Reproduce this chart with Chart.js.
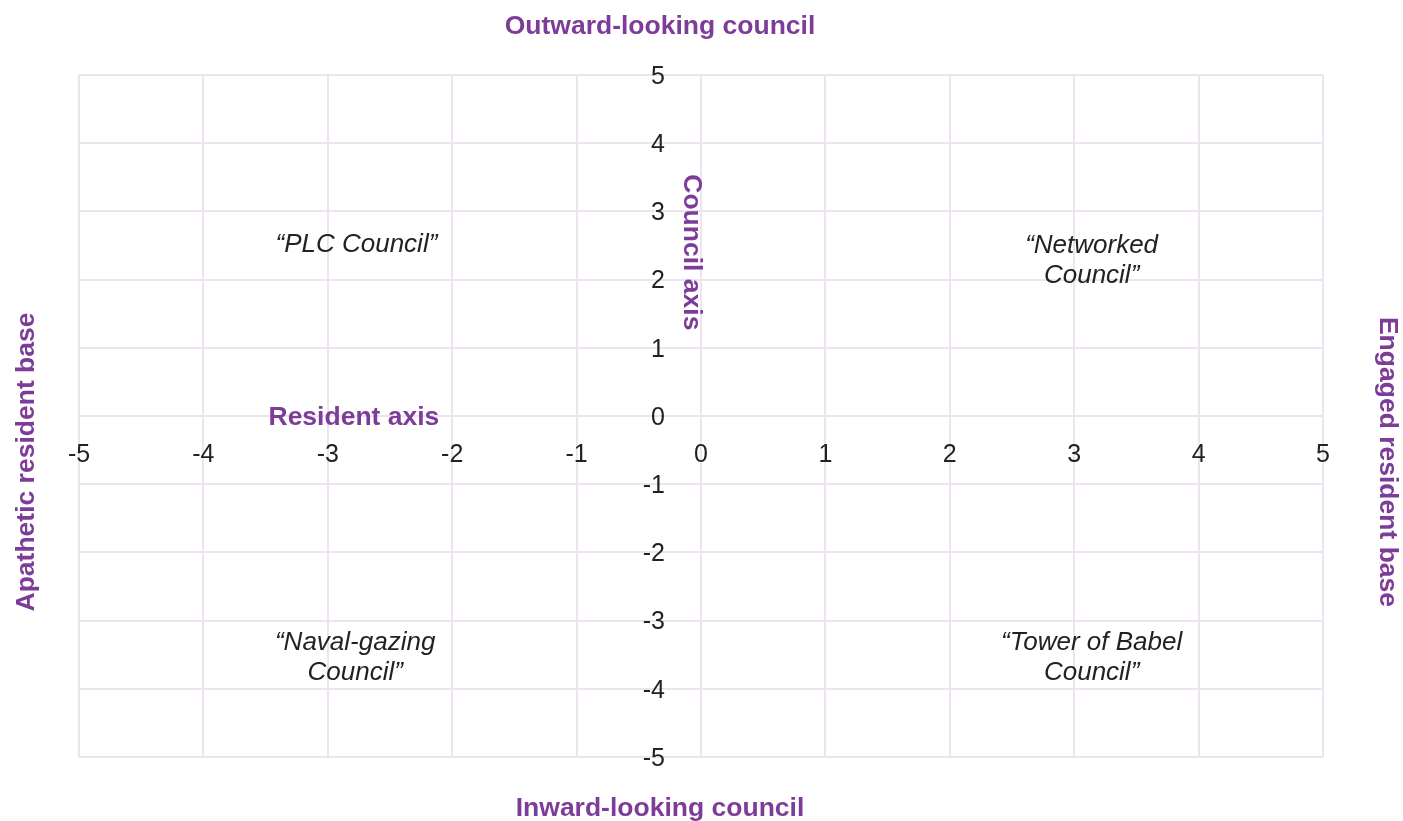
<!DOCTYPE html>
<html>
<head>
<meta charset="utf-8">
<title>Council and resident quadrants</title>
<script src="https://cdn.jsdelivr.net/npm/chart.js@4/dist/chart.umd.min.js"></script>
<style>
  html, body { margin: 0; padding: 0; background: #fff; }
  #wrap { width: 1403px; height: 821px; }
</style>
</head>
<body>
<div id="wrap"><canvas id="quadChart"></canvas></div>
<script>
// axis range
const axisMin = -5;
const axisMax = 5;
const tickStep = 1;

// the four quadrant names and where they sit (data units)
const quadrantNames = [
  ['“PLC Council”'],
  ['“Networked', 'Council”'],
  ['“Naval-gazing', 'Council”'],
  ['“Tower of Babel', 'Council”']
];
const quadrantX = [-2.77, 3.14, -2.78, 3.14];
const quadrantY = [2.54, 2.3, -3.52, -3.52];

// names of the two axes, placed inside the plot
const axisNames = ['Resident axis', 'Council axis'];
const axisNameX = [-2.79, -0.065];
const axisNameY = [0, 2.4];

// pole names: top, bottom, left, right
const poleNames = ['Outward-looking council', 'Inward-looking council', 'Apathetic resident base', 'Engaged resident base'];

const purple = '#7D3C98';
const ink = '#222222';
const gridColor = '#EEE3F1';
const fontFamily = '"Liberation Sans", Arial, Helvetica, sans-serif';

const labelPlugin = {
  id: 'quadLabels',
  afterDatasetsDraw(chart) {
    const { ctx, chartArea: a, scales: { x, y } } = chart;
    const lineGap = 30;
    const dy = 2; // baseline nudge
    ctx.save();
    ctx.textAlign = 'center';
    ctx.textBaseline = 'middle';

    // quadrant names at the (invisible) points
    ctx.font = 'italic 26px ' + fontFamily;
    ctx.fillStyle = ink;
    chart.getDatasetMeta(0).data.forEach((pt, i) => {
      const lines = quadrantNames[i];
      const top = pt.y - (lines.length - 1) * lineGap / 2 + dy;
      lines.forEach((l, j) => ctx.fillText(l, pt.x, top + j * lineGap));
    });

    ctx.font = 'bold 26.5px ' + fontFamily;
    ctx.fillStyle = purple;

    // resident axis name
    ctx.fillText(axisNames[0], x.getPixelForValue(axisNameX[0]), y.getPixelForValue(axisNameY[0]) + dy);

    // council axis name, rotated
    ctx.save();
    ctx.translate(x.getPixelForValue(axisNameX[1]) - dy, y.getPixelForValue(axisNameY[1]));
    ctx.rotate(Math.PI / 2);
    ctx.fillText(axisNames[1], 0, 0);
    ctx.restore();

    // pole names round the plot
    const midX = (a.left + a.right) / 2 - 41;
    const midY = (a.top + a.bottom) / 2 + 46;
    ctx.fillText(poleNames[0], midX, a.top - 50 + dy);
    ctx.fillText(poleNames[1], midX, a.bottom + 50 + dy);

    ctx.save();
    ctx.translate(a.left - 54 + dy, midY);
    ctx.rotate(-Math.PI / 2);
    ctx.fillText(poleNames[2], 0, 0);
    ctx.restore();

    ctx.save();
    ctx.translate(a.right + 66 - dy, midY);
    ctx.rotate(Math.PI / 2);
    ctx.fillText(poleNames[3], 0, 0);
    ctx.restore();

    ctx.restore();
  }
};

const points = quadrantX.map((v, i) => ({ x: v, y: quadrantY[i] }));

new Chart(document.getElementById('quadChart').getContext('2d'), {
  type: 'scatter',
  data: {
    datasets: [{
      label: 'Quadrants',
      data: points,
      pointRadius: 0,
      pointHoverRadius: 0
    }]
  },
  options: {
    responsive: true,
    maintainAspectRatio: false,
    animation: false,
    layout: {
      padding: { left: 79, right: 80, top: 75, bottom: 64 }
    },
    plugins: {
      legend: { display: false },
      tooltip: { enabled: false }
    },
    scales: {
      x: {
        type: 'linear',
        min: axisMin,
        max: axisMax,
        position: { y: 0 },
        border: { display: false },
        grid: { color: gridColor, lineWidth: 2, drawTicks: false },
        ticks: {
          stepSize: tickStep,
          padding: 24,
          maxRotation: 0,
          color: ink,
          font: { family: fontFamily, size: 25 }
        }
      },
      y: {
        type: 'linear',
        min: axisMin,
        max: axisMax,
        position: { x: -0.29 },
        border: { display: false },
        grid: { color: gridColor, lineWidth: 2, drawTicks: false },
        ticks: {
          stepSize: tickStep,
          padding: 0,
          labelOffset: 2,
          color: ink,
          font: { family: fontFamily, size: 25 }
        }
      }
    }
  },
  plugins: [labelPlugin]
});
</script>
</body>
</html>
